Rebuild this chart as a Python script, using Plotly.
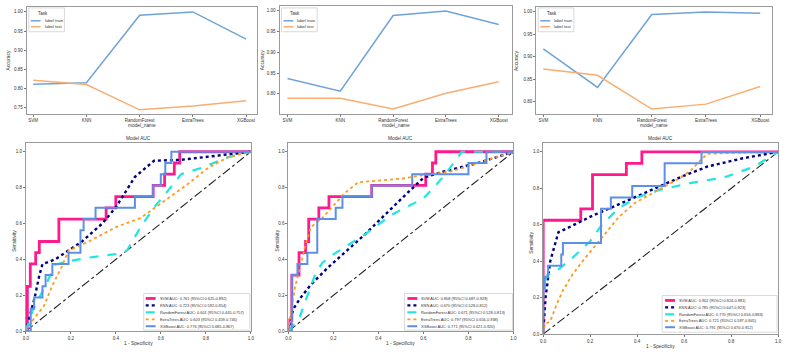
import plotly.graph_objects as go

W, H = 793, 357

# ---------------- data ----------------
MODELS = ["SVM", "KNN", "RandomForest", "ExtraTrees", "XGBoost"]
TASK_LABELS = ["label train", "label test"]

TRAIN_1 = [0.811, 0.815, 0.991, 1.000, 0.929]
TEST_1 = [0.821, 0.810, 0.744, 0.754, 0.768]
TRAIN_2 = [0.837, 0.806, 0.989, 1.000, 0.967]
TEST_2 = [0.789, 0.789, 0.763, 0.801, 0.829]
TRAIN_3 = [0.918, 0.832, 0.994, 1.000, 0.997]
TEST_3 = [0.873, 0.859, 0.784, 0.795, 0.834]

# panel 1 ROC
SVM1_FPR = [0, 0.007, 0.007, 0.02, 0.02, 0.044, 0.044, 0.06, 0.06, 0.147, 0.147, 0.357, 0.357, 0.40, 0.40, 0.566, 0.566, 0.617, 0.617, 0.66, 0.66, 0.684, 0.684, 1.0]
SVM1_TPR = [0, 0, 0.25, 0.25, 0.375, 0.375, 0.4375, 0.4375, 0.5, 0.5, 0.625, 0.625, 0.6875, 0.6875, 0.75, 0.75, 0.8125, 0.8125, 0.875, 0.875, 0.9375, 0.9375, 1.0, 1.0]
KNN1_FPR = [0, 0.02, 0.04, 0.06, 0.074, 0.13, 0.25, 0.34, 0.40, 0.485, 0.57, 0.69, 0.9, 1.0]
KNN1_TPR = [0, 0.1, 0.19, 0.31, 0.374, 0.40, 0.50, 0.60, 0.69, 0.86, 0.95, 0.955, 0.985, 1.0]
RF1_FPR = [0, 0.03, 0.09, 0.13, 0.19, 0.28, 0.40, 0.45, 0.51, 0.57, 0.63, 0.69, 0.78, 0.90, 1.0]
RF1_TPR = [0, 0.115, 0.26, 0.37, 0.39, 0.41, 0.43, 0.45, 0.58, 0.69, 0.78, 0.875, 0.91, 0.97, 1.0]
ET1_FPR = [0, 0.03, 0.08, 0.12, 0.16, 0.19, 0.28, 0.40, 0.51, 0.60, 0.72, 0.81, 0.90, 1.0]
ET1_TPR = [0, 0.06, 0.14, 0.26, 0.36, 0.45, 0.50, 0.58, 0.63, 0.71, 0.82, 0.91, 0.97, 1.0]
XGB1_FPR = [0, 0.022, 0.022, 0.037, 0.037, 0.074, 0.074, 0.088, 0.088, 0.118, 0.118, 0.19, 0.19, 0.243, 0.243, 0.257, 0.257, 0.31, 0.31, 0.485, 0.485, 0.566, 0.566, 0.60, 0.60, 0.62, 0.62, 0.647, 0.647, 1.0]
XGB1_TPR = [0, 0, 0.125, 0.125, 0.1875, 0.1875, 0.25, 0.25, 0.3125, 0.3125, 0.375, 0.375, 0.4375, 0.4375, 0.5625, 0.5625, 0.625, 0.625, 0.6875, 0.6875, 0.75, 0.75, 0.8125, 0.8125, 0.875, 0.875, 0.9375, 0.9375, 1.0, 1.0]

# panel 2 ROC
SVM2_FPR = [0, 0.0, 0.015, 0.015, 0.047, 0.047, 0.076, 0.076, 0.09, 0.09, 0.135, 0.135, 0.18, 0.18, 0.37, 0.37, 0.61, 0.61, 0.64, 0.64, 0.655, 0.655, 1.0]
SVM2_TPR = [0, 0.0625, 0.0625, 0.3125, 0.3125, 0.4375, 0.4375, 0.5, 0.5, 0.625, 0.625, 0.6875, 0.6875, 0.75, 0.75, 0.8125, 0.8125, 0.875, 0.875, 0.9375, 0.9375, 1.0, 1.0]
KNN2_FPR = [0, 0.02, 0.05, 0.10, 0.18, 0.34, 0.52, 0.60, 0.69, 0.85, 1.0]
KNN2_TPR = [0, 0.12, 0.18, 0.26, 0.36, 0.54, 0.76, 0.855, 0.89, 0.94, 1.0]
RF2_FPR = [0, 0.05, 0.076, 0.12, 0.15, 0.19, 0.34, 0.46, 0.60, 0.66, 0.70, 0.74, 0.77, 1.0]
RF2_TPR = [0, 0.08, 0.17, 0.32, 0.38, 0.42, 0.54, 0.65, 0.74, 0.82, 0.88, 0.95, 1.0, 1.0]
ET2_FPR = [0, 0.01, 0.03, 0.05, 0.08, 0.10, 0.15, 0.20, 0.25, 0.31, 0.40, 0.50, 0.60, 0.72, 0.85, 1.0]
ET2_TPR = [0, 0.10, 0.25, 0.35, 0.50, 0.58, 0.63, 0.70, 0.77, 0.83, 0.84, 0.85, 0.87, 0.89, 0.94, 1.0]
XGB2_FPR = [0, 0.015, 0.015, 0.04, 0.04, 0.084, 0.084, 0.128, 0.128, 0.21, 0.21, 0.24, 0.24, 0.37, 0.37, 0.55, 0.55, 0.80, 0.80, 0.88, 0.88, 1.0]
XGB2_TPR = [0, 0, 0.3125, 0.3125, 0.375, 0.375, 0.4375, 0.4375, 0.625, 0.625, 0.6875, 0.6875, 0.75, 0.75, 0.8125, 0.8125, 0.875, 0.875, 0.9375, 0.9375, 1.0, 1.0]

# panel 3 ROC
SVM3_FPR = [0, 0, 0.16, 0.16, 0.21, 0.21, 0.354, 0.354, 0.42, 0.42, 1.0]
SVM3_TPR = [0, 0.625, 0.625, 0.6875, 0.6875, 0.875, 0.875, 0.9375, 0.9375, 1.0, 1.0]
KNN3_FPR = [0, 0.01, 0.03, 0.05, 0.065, 0.10, 0.21, 0.30, 0.48, 0.60, 0.70, 0.85, 1.0]
KNN3_TPR = [0, 0.20, 0.40, 0.50, 0.56, 0.58, 0.65, 0.70, 0.80, 0.87, 0.92, 0.965, 1.0]
RF3_FPR = [0, 0, 0.014, 0.07, 0.126, 0.20, 0.25, 0.32, 0.39, 0.49, 0.63, 0.77, 0.90, 1.0]
RF3_TPR = [0, 0.255, 0.32, 0.36, 0.42, 0.51, 0.60, 0.69, 0.745, 0.79, 0.83, 0.86, 0.92, 1.0]
ET3_FPR = [0, 0.007, 0.03, 0.056, 0.084, 0.126, 0.18, 0.25, 0.32, 0.39, 0.49, 0.58, 0.63, 0.67, 0.70, 1.0]
ET3_TPR = [0, 0.055, 0.07, 0.16, 0.24, 0.33, 0.42, 0.53, 0.64, 0.72, 0.79, 0.855, 0.90, 0.955, 0.99, 1.0]
XGB3_FPR = [0, 0, 0.007, 0.007, 0.021, 0.021, 0.077, 0.077, 0.084, 0.084, 0.246, 0.246, 0.288, 0.288, 0.379, 0.379, 0.517, 0.517, 0.674, 0.674, 1.0]
XGB3_TPR = [0, 0.25, 0.25, 0.3125, 0.3125, 0.375, 0.375, 0.4375, 0.4375, 0.5, 0.5, 0.6875, 0.6875, 0.75, 0.75, 0.8125, 0.8125, 0.9375, 0.9375, 1.0, 1.0]

DIAG = [0, 1]

LABELS_1 = ["SVM AUC: 0.761 (95%CI 0.625-0.892)", "KNN AUC: 0.723 (95%CI 0.592-0.854)",
            "RandomForest AUC: 0.601 (95%CI 0.445-0.757)", "ExtraTrees AUC: 0.603 (95%CI 0.459-0.746)",
            "XGBoost AUC: 0.776 (95%CI 0.685-0.867)"]
LABELS_2 = ["SVM AUC: 0.808 (95%CI 0.687-0.928)", "KNN AUC: 0.670 (95%CI 0.528-0.812)",
            "RandomForest AUC: 0.671 (95%CI 0.528-0.813)", "ExtraTrees AUC: 0.797 (95%CI 0.656-0.938)",
            "XGBoost AUC: 0.771 (95%CI 0.621-0.920)"]
LABELS_3 = ["SVM AUC: 0.902 (95%CI 0.824-0.981)", "KNN AUC: 0.785 (95%CI 0.647-0.923)",
            "RandomForest AUC: 0.770 (95%CI 0.656-0.883)", "ExtraTrees AUC: 0.721 (95%CI 0.597-0.845)",
            "XGBoost AUC: 0.791 (95%CI 0.670-0.912)"]

# ---------------- style ----------------
FONT = "Liberation Sans, Arial, sans-serif"
TXT = "#333333"
C_TRAIN, C_TEST = "#6fa3d8", "#f8ae70"
STYLES = [  # SVM, KNN, RF, ET, XGB
    dict(color="#ff1a8c", width=2.8, dash="solid"),
    dict(color="#000080", width=2.4, dash="dot"),
    dict(color="#1ee6e0", width=2.2, dash="dash"),
    dict(color="#ff9a1f", width=1.8, dash="dot"),
    dict(color="#5b8fe8", width=2.0, dash="solid"),
]


def px(x):
    return x / W


def py(y):
    return 1 - y / H


fig = go.Figure()

# ----- top accuracy panels -----
top_sets = [(TRAIN_1, TEST_1), (TRAIN_2, TEST_2), (TRAIN_3, TEST_3)]
for i, (tr, te) in enumerate(top_sets):
    ax = "" if i == 0 else str(i + 1)
    fig.add_trace(go.Scatter(x=MODELS, y=tr, mode="lines", line=dict(color=C_TRAIN, width=1.5),
                             xaxis="x" + ax, yaxis="y" + ax, showlegend=False, name=TASK_LABELS[0]))
    fig.add_trace(go.Scatter(x=MODELS, y=te, mode="lines", line=dict(color=C_TEST, width=1.5),
                             xaxis="x" + ax, yaxis="y" + ax, showlegend=False, name=TASK_LABELS[1]))

# ----- bottom ROC panels -----
roc_sets = [
    [(SVM1_FPR, SVM1_TPR), (KNN1_FPR, KNN1_TPR), (RF1_FPR, RF1_TPR), (ET1_FPR, ET1_TPR), (XGB1_FPR, XGB1_TPR)],
    [(SVM2_FPR, SVM2_TPR), (KNN2_FPR, KNN2_TPR), (RF2_FPR, RF2_TPR), (ET2_FPR, ET2_TPR), (XGB2_FPR, XGB2_TPR)],
    [(SVM3_FPR, SVM3_TPR), (KNN3_FPR, KNN3_TPR), (RF3_FPR, RF3_TPR), (ET3_FPR, ET3_TPR), (XGB3_FPR, XGB3_TPR)],
]
label_sets = [LABELS_1, LABELS_2, LABELS_3]
for p, curves in enumerate(roc_sets):
    ax = str(p + 4)
    fig.add_trace(go.Scatter(x=DIAG, y=DIAG, mode="lines", line=dict(color="#222222", width=1.1, dash="dashdot"),
                             xaxis="x" + ax, yaxis="y" + ax, showlegend=False))
    for k, (fx, ty) in enumerate(curves):
        fig.add_trace(go.Scatter(x=fx, y=ty, mode="lines", line=STYLES[k], name=label_sets[p][k],
                                 xaxis="x" + ax, yaxis="y" + ax, showlegend=False))

# ----- axes -----
common = dict(showline=True, mirror=True, linecolor="#9a9a9a", linewidth=1, ticks="outside", ticklen=2,
              tickwidth=0.8, tickcolor="#555", showgrid=False, zeroline=False,
              tickfont=dict(size=4.5, color=TXT, family=FONT))

TOP_BOXES = [(24, 256, 7, 115), (279, 514, 6, 115), (538, 776, 7, 115)]
TOP_XR = [[-0.12, 4.2], [-0.15, 4.26], [-0.13, 4.22]]
TOP_YR = [[0.733, 1.013], [0.751, 1.012], [0.773, 1.011]]
BOT_BOXES = [(23, 250, 144, 334), (288, 515, 144, 334), (545, 782, 144, 337)]

layout = {}
for i, (x0, x1, y0, y1) in enumerate(TOP_BOXES):
    s = "" if i == 0 else str(i + 1)
    layout["xaxis" + s] = dict(common, domain=[px(x0), px(x1)], anchor="y" + s, type="category",
                               range=TOP_XR[i])
    layout["yaxis" + s] = dict(common, domain=[py(y1), py(y0)], anchor="x" + s, range=TOP_YR[i],
                               dtick=0.05, tickformat=".2f")
for i, (x0, x1, y0, y1) in enumerate(BOT_BOXES):
    s = str(i + 4)
    layout["xaxis" + s] = dict(common, domain=[px(x0), px(x1)], anchor="y" + s, range=[0, 1],
                               dtick=0.2, tickformat=".1f")
    layout["yaxis" + s] = dict(common, domain=[py(y1), py(y0)], anchor="x" + s, range=[0, 1.05],
                               tickvals=[0, 0.2, 0.4, 0.6, 0.8, 1.0], tickformat=".1f")

fig.update_layout(width=W, height=H, margin=dict(l=0, r=0, t=0, b=0), paper_bgcolor="white",
                  plot_bgcolor="white", font=dict(family=FONT, color=TXT), **layout)

ann = []
shapes = []


def text(x, y, t, size=4.5, angle=0, anchor="center"):
    ann.append(dict(x=px(x), y=py(y), xref="paper", yref="paper", text=t, showarrow=False,
                    font=dict(size=size, color=TXT, family=FONT), textangle=angle,
                    xanchor=anchor, yanchor="middle"))


def seg(x0, x1, y, line):
    shapes.append(dict(type="line", xref="paper", yref="paper", x0=px(x0), x1=px(x1), y0=py(y), y1=py(y),
                       line=line))


def box(x0, y0, x1, y1):
    shapes.append(dict(type="rect", xref="paper", yref="paper", x0=px(x0), x1=px(x1), y0=py(y1), y1=py(y0),
                       fillcolor="rgba(255,255,255,0.9)", line=dict(color="#d0d0d0", width=0.8)))


# top titles / legends
for (x0, x1, y0, y1), ytx in zip(TOP_BOXES, [6, 262, 518]):
    text((x0 + x1) / 2, 127, "model_name", 4.8)
    text(ytx, 61, "Accuracy", 4.8, angle=-90)
TOP_LEG = [(26, 62, 28), (281, 317, 283), (540, 576, 542)]
for lx0, lx1, lline in TOP_LEG:
    box(lx0, 8, lx1, 32)
    text((lx0 + lx1) / 2 - 4, 14, "Task", 4.5)
    seg(lline, lline + 10, 21, dict(color=C_TRAIN, width=1.5))
    seg(lline, lline + 10, 27, dict(color=C_TEST, width=1.5))
    text(lline + 12, 21, TASK_LABELS[0], 4.2, anchor="left")
    text(lline + 12, 27, TASK_LABELS[1], 4.2, anchor="left")

# bottom titles / legends
for (x0, x1, y0, y1), ytx in zip(BOT_BOXES, [12, 277, 533]):
    text((x0 + x1) / 2, 140, "Model AUC", 4.8)
    text((x0 + x1) / 2, y1 + 12, "1 - Specificity", 4.8)
    text(ytx, (y0 + y1) / 2 + 4, "Sensitivity", 4.8, angle=-90)
BOT_LEG = [(142, 249, 296, 333, 144, [301, 308, 315, 322, 329]),
           (405, 514, 296, 333, 408, [301, 308, 315, 322, 329]),
           (665, 781, 298, 335, 668, [303, 310, 317, 323.5, 330])]
for p, (bx0, bx1, by0, by1, lx, rows) in enumerate(BOT_LEG):
    box(bx0, by0, bx1, by1)
    for k, ry in enumerate(rows):
        st = STYLES[k]
        seg(lx, lx + 10, ry, dict(color=st["color"], width=st["width"], dash=st["dash"]))
        text(lx + 12, ry, label_sets[p][k], 3.9, anchor="left")

fig.update_layout(annotations=ann, shapes=shapes)
fig.write_html("out.html", config={"displayModeBar": False, "staticPlot": True},
               post_script="document.body.style.margin='0';document.body.style.overflow='hidden';")
